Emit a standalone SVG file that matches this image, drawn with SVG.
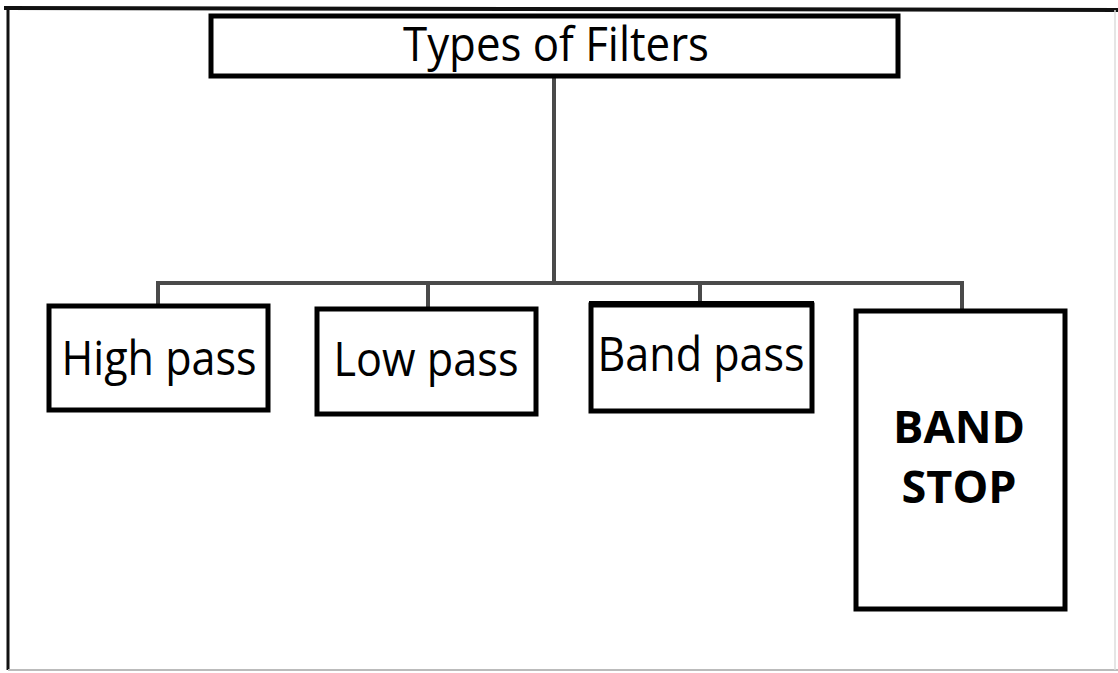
<svg xmlns="http://www.w3.org/2000/svg" width="1118" height="673" viewBox="0 0 1118 673">
<style>
.box{fill:#fff;stroke:#000;stroke-width:5}
.t{font-family:"Open Sans","Noto Sans",sans-serif;font-size:48px;fill:#000;text-anchor:middle}
.b{font-family:"Open Sans","Noto Sans",sans-serif;font-size:45px;font-weight:bold;fill:#000;text-anchor:middle}
.con{fill:none;stroke:#4a4a4a;stroke-width:4}
</style>
<rect width="1118" height="673" fill="#fff"/>
<g id="frame">
<line x1="4" y1="8" x2="1118" y2="10" stroke="#111" stroke-width="4"/>
<line x1="8" y1="7" x2="8" y2="670" stroke="#111" stroke-width="3"/>
<line x1="8" y1="670" x2="1118" y2="670" stroke="#bbb" stroke-width="2"/>
<line x1="1115" y1="10" x2="1115" y2="670" stroke="#ddd" stroke-width="1.5"/>
</g>
<g id="connectors">
<line class="con" x1="554" y1="77" x2="554" y2="283"/>
<polyline class="con" points="158,306 158,283 962,283 962,310"/>
<line class="con" x1="428" y1="283" x2="428" y2="308"/>
<line class="con" x1="700" y1="283" x2="700" y2="304"/>
</g>
<g id="title">
<rect class="box" x="211" y="16" width="687" height="60"/>
<text class="t" x="556" y="61" textLength="306" lengthAdjust="spacingAndGlyphs">Types of Filters</text>
</g>
<g id="highpass">
<rect class="box" x="49" y="306" width="219" height="104"/>
<text class="t" x="159" y="375" textLength="195" lengthAdjust="spacingAndGlyphs">High pass</text>
</g>
<g id="lowpass">
<rect class="box" x="317" y="309" width="219" height="105"/>
<text class="t" x="426" y="376" textLength="185" lengthAdjust="spacingAndGlyphs">Low pass</text>
</g>
<g id="bandpass">
<rect class="box" x="591" y="305" width="221" height="106"/>
<line x1="589" y1="304" x2="814" y2="304" stroke="#000" stroke-width="6"/>
<text class="t" x="701" y="371" textLength="207" lengthAdjust="spacingAndGlyphs">Band pass</text>
</g>
<g id="bandstop">
<rect class="box" x="856" y="311" width="209" height="298"/>
<text class="b" x="959" y="443" textLength="132" lengthAdjust="spacingAndGlyphs">BAND</text>
<text class="b" x="959" y="503" textLength="115" lengthAdjust="spacingAndGlyphs">STOP</text>
</g>
</svg>
